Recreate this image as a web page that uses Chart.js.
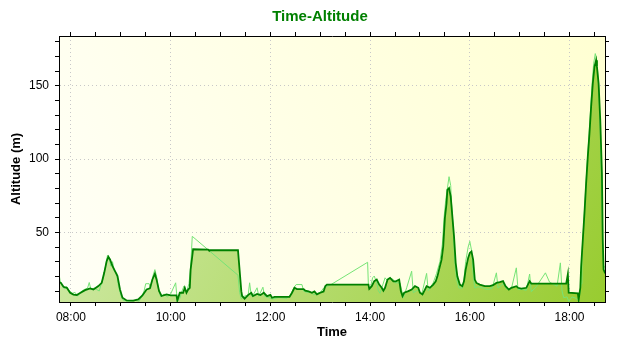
<!DOCTYPE html>
<html>
<head>
<meta charset="utf-8">
<script src="https://cdn.jsdelivr.net/npm/chart.js@4.4.1/dist/chart.umd.min.js"></script>
<style>
    html, body { margin: 0; padding: 0; background: #fff; }
</style>
</head>
<body>
<canvas id="grafica" width="640" height="350"></canvas>
<script>
"use strict";

// smoothed track (dark green line, filled)
const trackTimes = [
    "07:45","07:48","07:51","07:55","07:59","08:03","08:07","08:11","08:17","08:23",
    "08:27","08:33","08:37","08:40","08:43","08:45","08:47","08:50","08:53","08:56",
    "08:59","09:02","09:07","09:15","09:21","09:26","09:31","09:35","09:38","09:41",
    "09:43","09:46","09:49","09:55","10:00","10:07","10:08","10:11","10:15","10:17",
    "10:19","10:21","10:23","10:24","10:27","10:45","10:46","11:21","11:25","11:26",
    "11:29","11:33","11:37","11:39","11:44","11:48","11:52","11:56","12:00","12:02",
    "12:05","12:23","12:26","12:29","12:32","12:40","12:42","12:46","12:50","12:53",
    "12:56","13:00","13:04","13:06","13:08","13:58","13:59","14:02","14:05","14:08",
    "14:11","14:14","14:16","14:18","14:21","14:24","14:28","14:31","14:35","14:37",
    "14:39","14:41","14:46","14:50","14:54","14:58","15:00","15:03","15:06","15:08",
    "15:12","15:16","15:19","15:21","15:23","15:26","15:28","15:30","15:32","15:33",
    "15:35","15:37","15:39","15:41","15:43","15:45","15:48","15:51","15:53","15:55",
    "15:58","16:00","16:02","16:04","16:06","16:08","16:12","16:18","16:24","16:28",
    "16:32","16:36","16:40","16:43","16:47","16:50","16:56","16:58","17:02","17:08",
    "17:12","17:14","17:56","17:58","17:59","18:10","18:11","18:13","18:14","18:16",
    "18:18","18:20","18:22","18:24","18:26","18:28","18:30","18:32","18:33","18:35",
    "18:37","18:39","18:40","18:41","18:43"
];
const trackAlt = [
    16, 15.5, 12.9, 12.2, 8.8, 7.6, 7.2, 8.6, 10.6, 11.8,
    11.1, 13.4, 15.6, 22.4, 30.4, 33.3, 31.5, 27, 23.6, 20.2,
    11.1, 5.4, 3.6, 3.4, 4.3, 7, 11.1, 11.8, 17.9, 21.8,
    17.9, 10, 6.6, 7.7, 7, 7, 3.5, 8.8, 8.8, 12.2,
    8.8, 11, 12.2, 24.6, 38.5, 38.3, 37.8, 37.8, 9.9, 6.6,
    4.8, 7.2, 8.8, 6.6, 8, 7.2, 8.8, 6.5, 7.4, 5.4,
    6, 6, 8.8, 12.2, 11.3, 11.3, 10.2, 9.7, 8.8, 9.7,
    7.7, 8.8, 9.7, 13.3, 14.4, 14.4, 11.5, 13.3, 16.7, 17.8,
    14.4, 12.2, 10.2, 12.2, 17.8, 18.9, 16.6, 16.6, 17.8, 9.9,
    6.5, 8.8, 9.9, 11, 13.3, 12.2, 8.8, 7.7, 11, 13.3,
    12.2, 14.4, 16.6, 20, 24.6, 31.4, 40.5, 59.8, 70, 79,
    80.2, 74.5, 60.9, 47.3, 29.2, 20, 14.4, 13.3, 16.6, 24.6,
    32.6, 36, 37, 31.4, 17.8, 15.5, 14.4, 13.3, 13.3, 14,
    15.5, 16, 16.7, 13.3, 11, 12.2, 13.3, 12.2, 11.7, 12.2,
    16.7, 15.1, 15.1, 21.5, 8.8, 8.4, 4.2, 12.2, 26.9, 45,
    63.2, 83.6, 101.7, 117.6, 135.7, 151.6, 162.9, 167.5, 163, 151.6,
    126.7, 90.4, 45, 24.6, 22
];

// raw samples (thin light green line)
const rawTimes = [
    "07:45","07:47","07:49","07:52","07:55","07:58","08:02","08:05","08:08","08:12",
    "08:16","08:20","08:22","08:24","08:28","08:31","08:34","08:36","08:39","08:42",
    "08:44","08:46","08:48","08:50","08:52","08:55","08:57","09:00","09:03","09:10",
    "09:18","09:22","09:25","09:28","09:30","09:34","09:36","09:39","09:41","09:43",
    "09:45","09:48","09:52","09:56","10:00","10:06","10:08","10:11","10:13","10:16",
    "10:19","10:22","10:24","10:26","11:21","11:23","11:25","11:30","11:33","11:35",
    "11:37","11:40","11:44","11:46","11:51","11:53","11:58","12:02","12:10","12:20",
    "12:25","12:28","12:31","12:38","12:40","12:44","12:48","12:52","12:57","13:00",
    "13:04","13:13","13:57","13:58","14:00","14:03","14:05","14:08","14:10","14:12",
    "14:14","14:18","14:21","14:24","14:28","14:30","14:36","14:40","14:44","14:50",
    "14:52","14:58","15:02","15:08","15:10","15:16","15:20","15:24","15:27","15:29",
    "15:31","15:35","15:37","15:38","15:40","15:42","15:44","15:47","15:51","15:53",
    "15:55","15:58","16:00","16:02","16:04","16:06","16:10","16:16","16:22","16:27",
    "16:32","16:34","16:40","16:45","16:50","16:56","16:58","17:04","17:08","17:12",
    "17:14","17:20","17:31","17:36","17:45","17:49","17:51","17:53","17:57","17:59",
    "18:03","18:08","18:10","18:12","18:14","18:15","18:17","18:19","18:21","18:23",
    "18:25","18:27","18:29","18:31","18:33","18:35","18:37","18:39","18:40","18:41","18:43"
];
const rawAlt = [
    23.5, 17, 14, 11.5, 13, 10, 8.5, 9, 6.5, 9.5,
    11, 12, 15.8, 11, 12, 11, 10, 14, 19, 28,
    34.5, 32, 27, 30, 24, 22, 14, 7, 3.5, 3,
    3.5, 3, 6, 10, 15, 15, 12, 21, 24.6, 20,
    12, 6, 8, 6, 8, 15.6, 3, 5, 9, 13.4,
    9, 15, 26, 47.3, 20.8, 9, 4.6, 7, 6, 15.6,
    6.6, 8, 12.2, 6.5, 12.6, 6.5, 5.5, 4.5, 5.5, 5,
    8, 12, 14.4, 14.4, 10, 9, 9.5, 7.5, 8.5, 9,
    12, 14.4, 29.6, 13.3, 11, 19, 20.2, 15.5, 10.2, 8.5,
    12, 19, 17, 19, 17.8, 15.6, 15.6, 5.4, 12.2, 23.5,
    8.8, 11, 7.5, 22, 10, 15.6, 22, 30, 42, 60,
    72, 88, 82, 70, 52, 30, 18, 12, 12, 18,
    30, 40, 43.9, 38, 22, 12, 13, 12, 11, 12,
    22.4, 12, 15, 11, 11.5, 25.8, 11, 11, 10.5, 21.6,
    9.5, 13, 22.4, 16, 13.3, 29.2, 10, 5.4, 6, 2.9,
    6, 5, 3.8, 7, 15, 35, 55, 75, 95, 112,
    130, 150, 165, 172, 167, 150, 120, 70, 40, 27, 26
];

const xLabels = ["08:00", "10:00", "12:00", "14:00", "16:00", "18:00"];
const yLabels = [50, 100, 150];

const X_MIN = 465.6, X_MAX = 1122.7;   // 07:45.6 .. 18:42.7
const Y_MIN = 2.5, Y_MAX = 184;

Chart.defaults.font.family = "'Liberation Sans', Arial, sans-serif";

function toMin(s) {
    const [h, m] = s.split(":").map(Number);
    return h * 60 + m;
}
function fmtTime(v) {
    const h = Math.floor(v / 60), m = Math.round(v % 60);
    return String(h).padStart(2, "0") + ":" + String(m).padStart(2, "0");
}

// minor ticks every 30 min / every 10 m
const xTicks = [];
for (let v = 480; v <= 1110; v += 30) xTicks.push(v);
const yTicks = [];
for (let v = 10; v <= 180; v += 10) yTicks.push(v);

const isMajorX = (v) => xLabels.includes(fmtTime(v));
const isMajorY = (v) => yLabels.includes(v);

function fillGradient(context) {
    const { ctx, chartArea } = context.chart;
    if (!chartArea) return "#c4e294";
    const g = ctx.createLinearGradient(chartArea.left, chartArea.top, chartArea.right, chartArea.bottom);
    g.addColorStop(0, "#d6edb6");
    g.addColorStop(1, "#98cc30");
    return g;
}

const plotBackground = {
    id: "plotBackground",
    beforeDraw(chart) {
        const { ctx, chartArea: a } = chart;
        const g = ctx.createLinearGradient(a.left, a.bottom, a.right, a.top);
        g.addColorStop(0, "#fffff7");
        g.addColorStop(1, "#ffffd2");
        ctx.save();
        ctx.fillStyle = g;
        ctx.fillRect(a.left, a.top, a.right - a.left, a.bottom - a.top);
        ctx.restore();
    }
};

const gridDash = [1, 3];

function timeAxis(position, withLabels) {
    return {
        type: "linear",
        position: position,
        min: X_MIN,
        max: X_MAX,
        afterBuildTicks: (s) => { s.ticks = xTicks.map((v) => ({ value: v })); },
        afterFit: (s) => { s.height = withLabels ? 48 : 10; },
        ticks: {
            display: withLabels,
            autoSkip: false,
            maxRotation: 0,
            padding: 4,
            color: "#000",
            font: { size: 12 },
            callback: (v) => (isMajorX(v) ? fmtTime(v) : "")
        },
        grid: {
            drawOnChartArea: withLabels,
            color: (c) => (c.tick && isMajorX(c.tick.value) ? "#c8c8c8" : "rgba(0,0,0,0)"),
            tickColor: "#000",
            tickLength: 4
        },
        border: { color: "#000", dash: gridDash, z: 1 },
        title: {
            display: withLabels,
            text: "Time",
            color: "#000",
            font: { size: 13, weight: "bold" },
            padding: { top: 0, bottom: 10 }
        }
    };
}

function altAxis(position, withLabels) {
    return {
        type: "linear",
        position: position,
        min: Y_MIN,
        max: Y_MAX,
        afterBuildTicks: (s) => { s.ticks = yTicks.map((v) => ({ value: v })); },
        afterFit: (s) => { s.width = withLabels ? 59 : 35; },
        ticks: {
            display: withLabels,
            autoSkip: false,
            padding: 6,
            color: "#000",
            font: { size: 12 },
            callback: (v) => (isMajorY(v) ? String(v) : "")
        },
        grid: {
            drawOnChartArea: withLabels,
            color: (c) => (c.tick && isMajorY(c.tick.value) ? "#c8c8c8" : "rgba(0,0,0,0)"),
            tickColor: "#000",
            tickLength: 4
        },
        border: { color: "#000", dash: gridDash, z: 1 },
        title: {
            display: withLabels,
            text: "Altitude (m)",
            color: "#000",
            font: { size: 13, weight: "bold" },
            padding: { top: 9, bottom: 0 }
        }
    };
}

const $grafica = document.querySelector("#grafica");

new Chart($grafica, {
    type: "line",
    data: {
        datasets: [
            {
                label: "Altitude",
                data: trackTimes.map((t, i) => ({ x: toMin(t), y: trackAlt[i] })),
                borderColor: "#008000",
                borderWidth: 1.8,
                backgroundColor: fillGradient,
                fill: "start",
                pointRadius: 0,
                tension: 0
            },
            {
                label: "Raw",
                data: rawTimes.map((t, i) => ({ x: toMin(t), y: rawAlt[i] })),
                borderColor: "#76e476",
                borderWidth: 1,
                fill: false,
                pointRadius: 0,
                tension: 0
            }
        ]
    },
    options: {
        responsive: false,
        animation: false,
        layout: { padding: 0 },
        plugins: {
            legend: { display: false },
            tooltip: { enabled: false },
            filler: { drawTime: "beforeDatasetsDraw" },
            title: {
                display: true,
                text: "Time-Altitude",
                color: "#008000",
                font: { size: 15, weight: "bold" },
                padding: { top: 8, bottom: 0 }
            }
        },
        scales: {
            x: timeAxis("bottom", true),
            x2: timeAxis("top", false),
            y: altAxis("left", true),
            y2: altAxis("right", false)
        }
    },
    plugins: [plotBackground]
});
</script>
</body>
</html>
